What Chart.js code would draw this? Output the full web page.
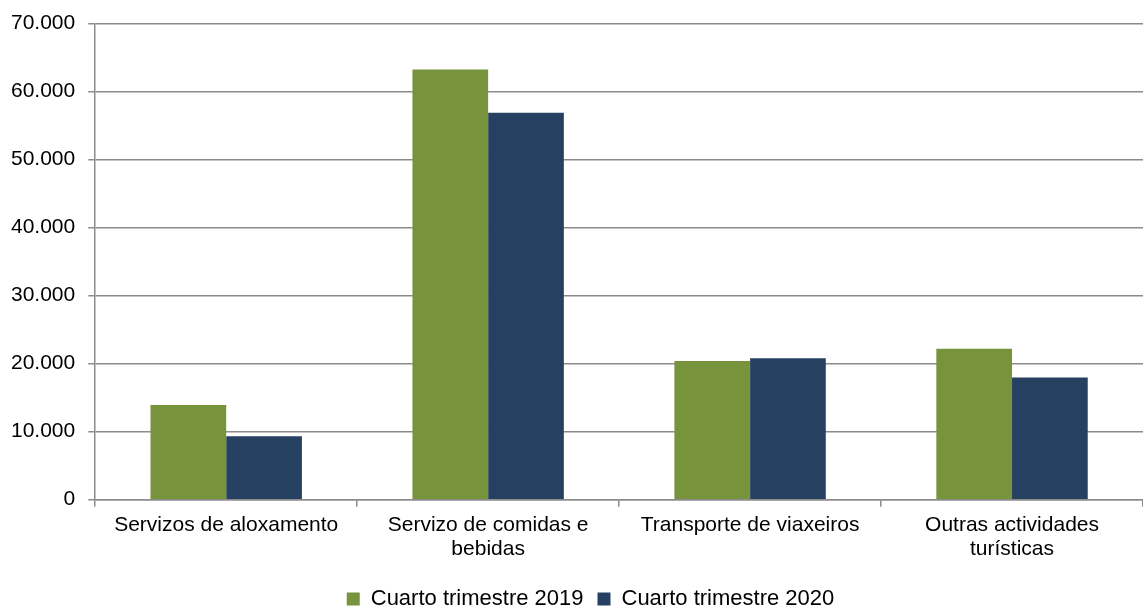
<!DOCTYPE html>
<html>
<head>
<meta charset="utf-8">
<script src="https://cdn.jsdelivr.net/npm/chart.js@4/dist/chart.umd.min.js"></script>
<style>
  html, body { margin: 0; padding: 0; background: #ffffff; }
  #wrap { width: 1143px; height: 608px; position: relative; }
</style>
</head>
<body>
<div id="wrap"><canvas id="chart"></canvas></div>
<script>
/* Data */
const categories = [
    "Servizos de aloxamento",
    ["Servizo de comidas e", "bebidas"],
    "Transporte de viaxeiros",
    ["Outras actividades", "turísticas"]
];
const seriesNames = ["Cuarto trimestre 2019", "Cuarto trimestre 2020"];
const values2019 = [13930, 63250, 20380, 22200];
const values2020 = [9340, 56890, 20780, 17950];
const yTicks = [0, 10000, 20000, 30000, 40000, 50000, 60000, 70000];

const GREEN = "#77933C";
const NAVY = "#254061";
const GRID = "#8c8c8c";
const FONT = "'Liberation Sans', Arial, sans-serif";

// 70000 -> "70.000"
function formatThousands(v) {
    return String(v).replace(/\B(?=(\d{3})+(?!\d))/g, ".");
}

// legend sits a bit right of the canvas centre in the original
const legendShift = {
    id: "legendShift",
    afterLayout(chart) {
        if (chart.legend) chart.legend.left += 40;
    }
};

new Chart(document.getElementById("chart"), {
    type: "bar",
    data: {
        labels: categories,
        datasets: [
            { label: seriesNames[0], data: values2019, backgroundColor: GREEN },
            { label: seriesNames[1], data: values2020, backgroundColor: NAVY }
        ]
    },
    options: {
        responsive: true,
        maintainAspectRatio: false,
        animation: false,
        // negative bottom pushes the legend down towards the canvas edge
        layout: { padding: { top: 7, right: 0, left: -2, bottom: -12 } },
        datasets: {
            bar: { categoryPercentage: 0.578, barPercentage: 1.0 }
        },
        scales: {
            x: {
                grid: {
                    offset: true,
                    drawOnChartArea: false,
                    drawTicks: true,
                    tickLength: 7,
                    color: GRID,
                    lineWidth: 1.5
                },
                border: { color: GRID, width: 1.5 },
                ticks: {
                    color: "#000000",
                    font: { family: FONT, size: 21, lineHeight: 1.15 },
                    padding: 6,
                    maxRotation: 0,
                    autoSkip: false
                },
                // leave a gap between the category labels and the legend
                afterFit: scale => { scale.height += 7; }
            },
            y: {
                min: 0,
                max: 70000,
                afterBuildTicks: axis => {
                    axis.ticks = yTicks.map(v => ({ value: v }));
                },
                grid: {
                    color: GRID,
                    lineWidth: 1.5,
                    tickLength: 7
                },
                border: { color: GRID, width: 1.5 },
                ticks: {
                    color: "#000000",
                    font: { family: FONT, size: 21, lineHeight: 1.0 },
                    padding: 13,
                    callback: v => formatThousands(v)
                }
            }
        },
        plugins: {
            legend: {
                position: "bottom",
                labels: {
                    color: "#000000",
                    font: { family: FONT, size: 22 },
                    boxWidth: 13,
                    boxHeight: 13,
                    padding: 14
                }
            },
            tooltip: { enabled: false }
        }
    },
    plugins: [legendShift]
});
</script>
</body>
</html>
